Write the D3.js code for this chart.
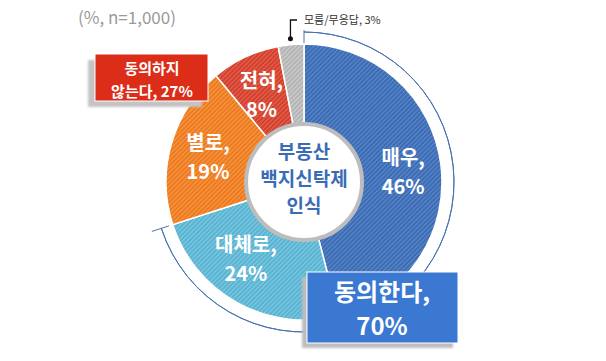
<!DOCTYPE html>
<html><head><meta charset="utf-8">
<script src="https://cdn.jsdelivr.net/npm/d3@7"></script>
<style>
body{margin:0;background:#fff;}
text{font-family:"Noto Sans CJK KR","Noto Sans",sans-serif;}
</style></head>
<body><svg id="c" width="606" height="361"></svg>
<script>
const categories = ["매우", "대체로", "별로", "전혀", "모름/무응답"];
const values = [46, 24, 19, 8, 3];
const colors = ["#3c6cb4", "#58b4d2", "#ee7a1c", "#d53f2c", "#b4b4b4"];
const stripes = ["#5f8bcc", "#86cbe2", "#f59c52", "#e06a58", "#d2d2d2"];
const groupLabels = ["동의한다,", "70%", "동의하지", "않는다, 27%"];
const centerLines = ["부동산", "백지신탁제", "인식"];

const svg = d3.select("#c");
const cx = 304, cy = 182, R = 138, rIn = 58;
const defs = svg.append("defs");
colors.forEach((c, i) => {
  const p = defs.append("pattern").attr("id", "h" + i).attr("width", 3.2).attr("height", 3.2)
    .attr("patternUnits", "userSpaceOnUse").attr("patternTransform", "rotate(45)");
  p.append("rect").attr("width", 3.2).attr("height", 3.2).attr("fill", c);
  p.append("rect").attr("width", 1).attr("height", 3.2).attr("fill", stripes[i]);
});
const sh = defs.append("filter").attr("id", "blur");
sh.append("feGaussianBlur").attr("stdDeviation", 1.2);

svg.append("text").attr("x", 78).attr("y", 24).attr("font-size", 17).attr("fill", "#9a9a9a")
  .attr("font-family", "'Noto Sans', sans-serif").text("(%, n=1,000)");

const g = svg.append("g").attr("transform", `translate(${cx},${cy})`);
const pie = d3.pie().sort(null).value(d => d)(values);
const arc = d3.arc().innerRadius(0).outerRadius(R);
g.selectAll("path.s").data(pie).join("path").attr("class", "s")
  .attr("d", arc).attr("fill", (d, i) => `url(#h${i})`)
  .attr("stroke", "#fff").attr("stroke-width", 1.5);

// bracket for agree group
const agreeEnd = pie[1].endAngle;
const br = d3.arc().innerRadius(150).outerRadius(150).startAngle(0).endAngle(agreeEnd);
g.append("path").attr("d", br).attr("fill", "none").attr("stroke", "#4a72b0").attr("stroke-width", 1);
[[0, 139, 152], [agreeEnd, 142, 160]].forEach(([a, r0, r1]) => {
  g.append("line").attr("x1", r0 * Math.sin(a)).attr("y1", -r0 * Math.cos(a))
    .attr("x2", r1 * Math.sin(a)).attr("y2", -r1 * Math.cos(a))
    .attr("stroke", "#4a72b0").attr("stroke-width", 1);
});

// center circle
g.append("circle").attr("r", rIn).attr("fill", "#fff").attr("stroke", "#bdbdbd").attr("stroke-width", 4);
centerLines.forEach((t, i) => {
  g.append("text").attr("y", -30 + i * 27 + 7).attr("text-anchor", "middle")
    .attr("font-size", 19).attr("font-weight", 700).attr("fill", "#3a6cb5").text(t);
});

// slice labels
const la = d3.arc().innerRadius(100).outerRadius(100);
const nudge = {1: [-10, -14]};
pie.slice(0, 4).forEach((d, i) => {
  let [x, y] = la.centroid(d);
  if (nudge[i]) { x += nudge[i][0]; y += nudge[i][1]; }
  const t = g.append("text").attr("text-anchor", "middle").attr("font-size", 20)
    .attr("font-weight", 700).attr("fill", "#fff");
  t.append("tspan").attr("x", x).attr("y", y - 4).text(categories[i] + ",");
  t.append("tspan").attr("x", x).attr("y", y + 25).text(values[i] + "%");
});

// "don't know" callout
const gd = pie[4];
const ga = (gd.startAngle + gd.endAngle) / 2;
const dx = cx + (R + 6) * Math.sin(ga), dy = cy - (R + 6) * Math.cos(ga);
svg.append("circle").attr("cx", dx).attr("cy", dy).attr("r", 2.5).attr("fill", "#111");
svg.append("path").attr("d", `M${dx},${dy}V20H297`).attr("fill", "none").attr("stroke", "#111").attr("stroke-width", 1.3);
svg.append("text").attr("x", 304).attr("y", 24).attr("font-size", 11).attr("fill", "#333")
  .text(`${categories[4]}, ${values[4]}%`);

// disagree box
svg.append("rect").attr("x", 88).attr("y", 60).attr("width", 114).attr("height", 47).attr("fill", "#c4c4c4").attr("filter", "url(#blur)");
svg.append("rect").attr("x", 95).attr("y", 54).attr("width", 113).attr("height", 47).attr("fill", "#dc2d19").attr("stroke", "#fff").attr("stroke-width", 1);
const dt = svg.append("text").attr("text-anchor", "middle").attr("font-size", 15).attr("font-weight", 700).attr("fill", "#fff");
dt.append("tspan").attr("x", 152).attr("y", 74).text(groupLabels[2]);
dt.append("tspan").attr("x", 152).attr("y", 97).text(groupLabels[3]);

// agree box
svg.append("rect").attr("x", 302).attr("y", 277).attr("width", 151).attr("height", 71).attr("fill", "#bdbdbd").attr("filter", "url(#blur)");
svg.append("rect").attr("x", 307).attr("y", 272).attr("width", 151).attr("height", 71).attr("fill", "#3a78d2").attr("stroke", "#fff").attr("stroke-width", 1);
const at = svg.append("text").attr("text-anchor", "middle").attr("font-size", 24).attr("font-weight", 700).attr("fill", "#fff");
at.append("tspan").attr("x", 382).attr("y", 301).text(groupLabels[0]);
at.append("tspan").attr("x", 382).attr("y", 335).text(groupLabels[1]);
</script></body></html>
